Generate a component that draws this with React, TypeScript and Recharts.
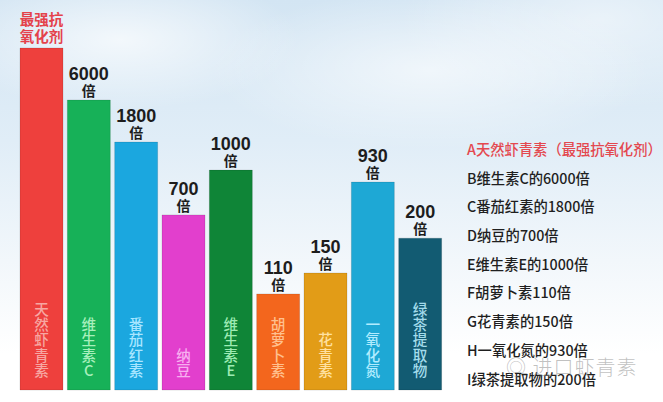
import { Bar, BarChart, Cell, LabelList, XAxis, YAxis } from "recharts";

// Antioxidant comparison poster: bar lengths are visual (relative) sizes, not the multiples themselves.
const keys = ["A", "B", "C", "D", "E", "F", "G", "H", "I"];
const names = ["天然虾青素", "维生素C", "番茄红素", "纳豆", "维生素E", "胡萝卜素", "花青素", "一氧化氮", "绿茶提取物"];
const multiples = ["", "6000", "1800", "700", "1000", "110", "150", "930", "200"];
const relativeHeight = [100, 84.8, 72.5, 51.2, 64.3, 28.1, 34.2, 60.8, 44.4];
const barColors = ["#ee403d", "#17b158", "#1ba7df", "#e23fcd", "#0f8537", "#f3661d", "#e29c17", "#1ea8d5", "#125b72"];
const innerColors = ["#f7a7a2", "#a6efbb", "#a8e6ff", "#f7aef0", "#9debb3", "#ffc08e", "#ffe1a0", "#b1ecff", "#a3dbeb"];
const legendLines = [
  "A天然虾青素（最强抗氧化剂）",
  "B维生素C的6000倍",
  "C番茄红素的1800倍",
  "D纳豆的700倍",
  "E维生素E的1000倍",
  "F胡萝卜素110倍",
  "G花青素的150倍",
  "H一氧化氮的930倍",
  "I绿茶提取物的200倍",
];
const topNote = ["最强抗", "氧化剂"];

const data = keys.map((key, i) => ({
  key,
  name: names[i],
  multiple: multiples[i],
  value: relativeHeight[i],
}));

const FONT = '"Noto Sans CJK SC", "Noto Sans", sans-serif';
const NUM_FONT = '"Liberation Sans", Arial, sans-serif';

function TopLabel(props: any) {
  const { x, y, width, index } = props;
  const cx = x + width / 2;
  if (index === 0) {
    return (
      <g fontFamily={FONT} fontWeight={700} fontSize={14.5} fill="#e4424b" textAnchor="middle">
        <text x={cx} y={y - 23}>{topNote[0]}</text>
        <text x={cx} y={y - 6}>{topNote[1]}</text>
      </g>
    );
  }
  return (
    <g fontWeight={700} fill="#1d1d1d" textAnchor="middle">
      <text x={cx} y={y - 20} fontSize={18} fontFamily={NUM_FONT}>
        {multiples[index]}
      </text>
      <text x={cx} y={y - 4} fontSize={14} fontFamily={FONT}>
        倍
      </text>
    </g>
  );
}

function InnerLabel(props: any) {
  const { x, y, width, height, index } = props;
  const cx = x + width / 2;
  const chars = Array.from(names[index]);
  const bottom = y + height - 14;
  const step = 15.3;
  return (
    <g fontFamily={FONT} fontSize={14.6} fontWeight={500} fill={innerColors[index]} textAnchor="middle">
      {chars.map((ch, i) => (
        <text key={i} x={cx} y={bottom - (chars.length - 1 - i) * step}>
          {ch}
        </text>
      ))}
    </g>
  );
}

export default function App() {
  return (
    <div
      style={{
        position: "absolute",
        left: 0,
        top: 0,
        width: 663,
        height: 402,
        overflow: "hidden",
        background:
          "radial-gradient(ellipse 180px 70px at 120px 40px, rgba(255,255,255,0.7), rgba(255,255,255,0)), " +
          "radial-gradient(ellipse 220px 80px at 430px 70px, rgba(255,255,255,0.6), rgba(255,255,255,0)), " +
          "radial-gradient(ellipse 200px 90px at 600px 20px, rgba(255,255,255,0.5), rgba(255,255,255,0)), " +
          "linear-gradient(#d3e5f3 0%, #e0edf7 35%, #f2f7fb 65%, #ffffff 88%)",
      }}
    >
      <BarChart
        width={663}
        height={402}
        data={data}
        margin={{ top: 48, right: 219, bottom: 12, left: 18 }}
        barCategoryGap={4}
      >
        <XAxis dataKey="key" hide />
        <YAxis hide domain={[0, 100]} />
        <Bar dataKey="value" isAnimationActive={false} barSize={43}>
          {data.map((d, i) => (
            <Cell key={d.key} fill={barColors[i]} stroke="rgba(0,0,0,0.12)" strokeWidth={1} />
          ))}
          <LabelList dataKey="multiple" content={TopLabel} />
          <LabelList dataKey="name" content={InnerLabel} />
        </Bar>
      </BarChart>
      <div style={{ position: "absolute", left: 467, top: 139, fontFamily: FONT, fontSize: 14.3, fontWeight: 500 }}>
        {legendLines.map((line, i) => (
          <div
            key={line}
            style={{
              height: 28.7,
              lineHeight: "20px",
              color: i === 0 ? "#e4484f" : "#1f1f1f",
              whiteSpace: "nowrap",
            }}
          >
            {line}
          </div>
        ))}
      </div>
      <div
        style={{
          position: "absolute",
          left: 506,
          top: 352,
          fontFamily: FONT,
          fontSize: 20,
          fontWeight: 300,
          color: "rgba(140,140,140,0.55)",
          letterSpacing: 1,
          whiteSpace: "nowrap",
        }}
      >
        ◎ 进口虾青素
      </div>
    </div>
  );
}
